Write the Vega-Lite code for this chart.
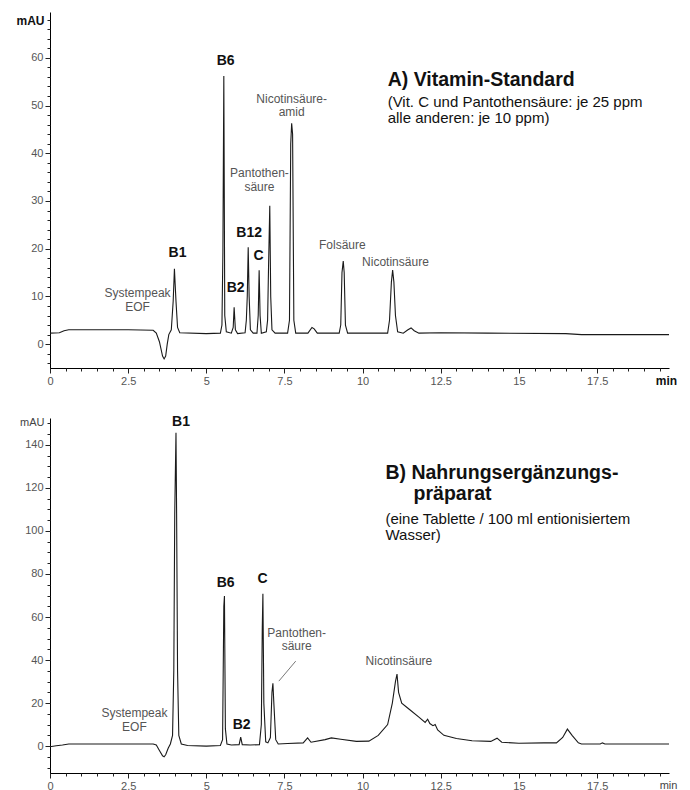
{
  "$schema": "https://vega.github.io/schema/vega-lite/v6.json",
  "background": "white",
  "padding": {"left": 15, "top": 12, "right": 10, "bottom": 0},
  "spacing": 28,
  "config": {
    "view": {"stroke": null},
    "font": "Liberation Sans",
    "axis": {
      "grid": false,
      "domainColor": "#000",
      "tickColor": "#222",
      "labelColor": "#555",
      "labelFontSize": 11,
      "labelPadding": 2,
      "labelOverlap": false,
      "labelFlush": false,
      "titleColor": "#111"
    }
  },
  "datasets": {
    "A": [
      {"t": 0, "v": 2.3}, {"t": 0.3, "v": 2.4}, {"t": 0.45, "v": 2.8}, {"t": 0.6, "v": 3.0}, {"t": 1.5, "v": 3.0}, {"t": 2.5, "v": 3.0},
      {"t": 3.3, "v": 2.9}, {"t": 3.4, "v": 2.3}, {"t": 3.5, "v": 0.5}, {"t": 3.6, "v": -2.5}, {"t": 3.65, "v": -3.1}, {"t": 3.7, "v": -2.5},
      {"t": 3.75, "v": 0}, {"t": 3.8, "v": 2.0}, {"t": 3.88, "v": 3.0}, {"t": 3.94, "v": 9}, {"t": 3.98, "v": 15.8}, {"t": 4.0, "v": 13},
      {"t": 4.03, "v": 9}, {"t": 4.08, "v": 3.5}, {"t": 4.15, "v": 2.4}, {"t": 5.0, "v": 2.2}, {"t": 5.45, "v": 2.3}, {"t": 5.5, "v": 4},
      {"t": 5.53, "v": 19}, {"t": 5.56, "v": 56.2}, {"t": 5.59, "v": 6}, {"t": 5.64, "v": 2.6}, {"t": 5.8, "v": 2.3}, {"t": 5.86, "v": 3.5},
      {"t": 5.89, "v": 7.7}, {"t": 5.93, "v": 3}, {"t": 6.0, "v": 2.2}, {"t": 6.24, "v": 2.4}, {"t": 6.28, "v": 5}, {"t": 6.31, "v": 10},
      {"t": 6.34, "v": 20.3}, {"t": 6.37, "v": 10}, {"t": 6.41, "v": 3}, {"t": 6.5, "v": 2.3}, {"t": 6.62, "v": 2.3}, {"t": 6.66, "v": 6},
      {"t": 6.69, "v": 15.5}, {"t": 6.72, "v": 6}, {"t": 6.76, "v": 2.3}, {"t": 6.92, "v": 2.6}, {"t": 6.96, "v": 5}, {"t": 6.99, "v": 16},
      {"t": 7.03, "v": 29}, {"t": 7.06, "v": 10}, {"t": 7.1, "v": 3}, {"t": 7.2, "v": 2.3}, {"t": 7.6, "v": 2.3}, {"t": 7.66, "v": 5},
      {"t": 7.7, "v": 42}, {"t": 7.73, "v": 46.3}, {"t": 7.76, "v": 44}, {"t": 7.8, "v": 5}, {"t": 7.86, "v": 2.3}, {"t": 8.25, "v": 2.3},
      {"t": 8.38, "v": 3.5}, {"t": 8.45, "v": 3.2}, {"t": 8.55, "v": 2.3}, {"t": 9.25, "v": 2.3}, {"t": 9.3, "v": 4}, {"t": 9.34, "v": 15},
      {"t": 9.38, "v": 17.4}, {"t": 9.41, "v": 15}, {"t": 9.45, "v": 4}, {"t": 9.52, "v": 2.3}, {"t": 10.8, "v": 2.3}, {"t": 10.86, "v": 5},
      {"t": 10.92, "v": 13}, {"t": 10.96, "v": 15.5}, {"t": 11.0, "v": 13}, {"t": 11.05, "v": 6}, {"t": 11.12, "v": 2.6}, {"t": 11.3, "v": 2.3},
      {"t": 11.45, "v": 3.0}, {"t": 11.55, "v": 3.4}, {"t": 11.65, "v": 2.8}, {"t": 11.8, "v": 2.3}, {"t": 12.5, "v": 2.4}, {"t": 14.0, "v": 2.3},
      {"t": 16.5, "v": 2.2}, {"t": 17.0, "v": 2.0}, {"t": 19.8, "v": 2.0}
    ],
    "B": [
      {"t": 0, "v": -0.3}, {"t": 0.2, "v": 0.2}, {"t": 0.4, "v": 0.5}, {"t": 0.6, "v": 1.0}, {"t": 1.0, "v": 1.0}, {"t": 2.0, "v": 1.0},
      {"t": 3.3, "v": 1.0}, {"t": 3.4, "v": 0.5}, {"t": 3.5, "v": -2}, {"t": 3.6, "v": -4.5}, {"t": 3.65, "v": -5}, {"t": 3.7, "v": -4},
      {"t": 3.78, "v": -1}, {"t": 3.85, "v": 1}, {"t": 3.92, "v": 5}, {"t": 3.96, "v": 35}, {"t": 3.99, "v": 108}, {"t": 4.01, "v": 127},
      {"t": 4.03, "v": 145.6}, {"t": 4.05, "v": 108}, {"t": 4.08, "v": 35}, {"t": 4.12, "v": 5}, {"t": 4.2, "v": 1}, {"t": 4.4, "v": 0.3},
      {"t": 5.0, "v": 0}, {"t": 5.45, "v": 0.3}, {"t": 5.52, "v": 3}, {"t": 5.56, "v": 65}, {"t": 5.58, "v": 69.8}, {"t": 5.61, "v": 8},
      {"t": 5.66, "v": 1}, {"t": 5.8, "v": 0.5}, {"t": 6.05, "v": 0.7}, {"t": 6.1, "v": 4.2}, {"t": 6.15, "v": 0.7}, {"t": 6.4, "v": 0.5},
      {"t": 6.7, "v": 0.7}, {"t": 6.76, "v": 10}, {"t": 6.79, "v": 55}, {"t": 6.81, "v": 70.8}, {"t": 6.84, "v": 20}, {"t": 6.9, "v": 2},
      {"t": 6.97, "v": 1.5}, {"t": 7.05, "v": 4}, {"t": 7.1, "v": 25}, {"t": 7.13, "v": 29.2}, {"t": 7.16, "v": 20}, {"t": 7.22, "v": 3},
      {"t": 7.3, "v": 1.0}, {"t": 7.6, "v": 1.2}, {"t": 8.1, "v": 1.5}, {"t": 8.24, "v": 3.8}, {"t": 8.35, "v": 1.8}, {"t": 8.8, "v": 3},
      {"t": 9.0, "v": 3.8}, {"t": 9.3, "v": 3.2}, {"t": 9.8, "v": 2.2}, {"t": 10.2, "v": 2.3}, {"t": 10.5, "v": 5}, {"t": 10.8, "v": 10},
      {"t": 10.95, "v": 20}, {"t": 11.05, "v": 30}, {"t": 11.1, "v": 33.5}, {"t": 11.15, "v": 25}, {"t": 11.25, "v": 20}, {"t": 11.5, "v": 17},
      {"t": 11.8, "v": 13.5}, {"t": 12.0, "v": 11}, {"t": 12.08, "v": 12.5}, {"t": 12.15, "v": 10.5}, {"t": 12.25, "v": 9.5}, {"t": 12.32, "v": 10},
      {"t": 12.4, "v": 7.5}, {"t": 12.6, "v": 5}, {"t": 13.0, "v": 3.5}, {"t": 13.5, "v": 2.5}, {"t": 14.1, "v": 2.2}, {"t": 14.3, "v": 3.7},
      {"t": 14.45, "v": 1.8}, {"t": 15.0, "v": 1.3}, {"t": 15.8, "v": 1.5}, {"t": 16.2, "v": 1.5}, {"t": 16.4, "v": 4}, {"t": 16.55, "v": 7.9},
      {"t": 16.7, "v": 5}, {"t": 16.9, "v": 1.5}, {"t": 17.0, "v": 1.0}, {"t": 17.6, "v": 1.0}, {"t": 17.67, "v": 1.5}, {"t": 17.75, "v": 1.0},
      {"t": 19.8, "v": 1.0}
    ],
    "labels": [
      {"panel": "A", "kind": "peak", "t": 4.08, "v": 19, "text": "B1"},
      {"panel": "A", "kind": "peak", "t": 5.62, "v": 59.3, "text": "B6"},
      {"panel": "A", "kind": "peak", "t": 5.94, "v": 11.7, "text": "B2"},
      {"panel": "A", "kind": "peak", "t": 6.37, "v": 23.3, "text": "B12"},
      {"panel": "A", "kind": "peak", "t": 6.67, "v": 18.5, "text": "C"},
      {"panel": "A", "kind": "name", "t": 2.8, "v": 10.7, "text": "Systempeak\nEOF"},
      {"panel": "A", "kind": "name", "t": 6.7, "v": 35.8, "text": "Pantothen-\nsäure"},
      {"panel": "A", "kind": "name", "t": 7.73, "v": 51.4, "text": "Nicotinsäure-\namid"},
      {"panel": "A", "kind": "name", "t": 9.35, "v": 20.8, "text": "Folsäure"},
      {"panel": "A", "kind": "name", "t": 11.05, "v": 17.2, "text": "Nicotinsäure"},
      {"panel": "A", "kind": "title", "t": 10.8, "v": 55.3, "text": "A) Vitamin-Standard"},
      {"panel": "A", "kind": "sub", "t": 10.8, "v": 50.7, "text": "(Vit. C und Pantothensäure: je 25 ppm\nalle anderen: je 10 ppm)"},
      {"panel": "B", "kind": "peak", "t": 4.19, "v": 150.7, "text": "B1"},
      {"panel": "B", "kind": "peak", "t": 5.62, "v": 75.8, "text": "B6"},
      {"panel": "B", "kind": "peak", "t": 6.8, "v": 77.7, "text": "C"},
      {"panel": "B", "kind": "peak", "t": 6.13, "v": 9.8, "text": "B2"},
      {"panel": "B", "kind": "name", "t": 2.7, "v": 15.3, "text": "Systempeak\nEOF"},
      {"panel": "B", "kind": "name", "t": 7.89, "v": 52.6, "text": "Pantothen-\nsäure"},
      {"panel": "B", "kind": "name", "t": 11.16, "v": 39.5, "text": "Nicotinsäure"},
      {"panel": "B", "kind": "title", "t": 10.73, "v": 127, "text": "B) Nahrungsergänzungs-"},
      {"panel": "B", "kind": "title", "t": 11.63, "v": 117, "text": "präparat"},
      {"panel": "B", "kind": "sub", "t": 10.73, "v": 105.6, "text": "(eine Tablette / 100 ml entionisiertem\nWasser)"}
    ],
    "pointer": [
      {"t": 7.86, "v": 39.5, "t2": 7.32, "v2": 30.2}
    ]
  },
  "vconcat": [
    {
      "width": 619,
      "height": 356,
      "resolve": {"axis": {"x": "independent", "y": "independent"}},
      "layer": [
        {
          "data": {"name": "A"},
          "mark": {"type": "line", "color": "#1a1a1a", "strokeWidth": 1.1},
          "encoding": {
            "x": {
              "field": "t", "type": "quantitative",
              "scale": {"domain": [0, 19.8], "nice": false, "zero": false},
              "axis": {
                "orient": "bottom",
                "values": [0, 2.5, 5, 7.5, 10, 12.5, 15, 17.5],
                "labelExpr": "'' + datum.value", "tickSize": 5,
                "title": "min", "titleX": 616, "titleY": 12, "titleAlign": "center", "titleBaseline": "middle",
                "titleFontWeight": "bold", "titleFontSize": 12
              }
            },
            "y": {
              "field": "v", "type": "quantitative",
              "scale": {"domain": [-5, 69.6], "nice": false, "zero": false},
              "axis": {
                "orient": "left",
                "values": [0, 10, 20, 30, 40, 50, 60],
                "labelExpr": "'' + datum.value", "tickSize": 5,
                "title": "mAU", "titleAngle": 0, "titleAlign": "right", "titleBaseline": "middle",
                "titleX": -6, "titleY": 8, "titleFontWeight": "bold", "titleFontSize": 12
              }
            }
          }
        },
        {
          "data": {"name": "labels"},
          "transform": [{"filter": "datum.panel === 'A' && datum.kind === 'peak'"}],
          "mark": {"type": "text", "fontWeight": "bold", "fontSize": 14, "color": "#111", "align": "center", "baseline": "middle"},
          "encoding": {
            "x": {"field": "t", "type": "quantitative", "axis": {"orient": "bottom", "values": [0,0.5,1,1.5,2,2.5,3,3.5,4,4.5,5,5.5,6,6.5,7,7.5,8,8.5,9,9.5,10,10.5,11,11.5,12,12.5,13,13.5,14,14.5,15,15.5,16,16.5,17,17.5,18,18.5,19,19.5], "labels": false, "domain": false, "tickSize": 3, "title": null}},
            "y": {"field": "v", "type": "quantitative", "axis": {"orient": "left", "values": [-4,-2,0,2,4,6,8,10,12,14,16,18,20,22,24,26,28,30,32,34,36,38,40,42,44,46,48,50,52,54,56,58,60,62,64,66,68], "labels": false, "domain": false, "tickSize": 3, "title": null}},
            "text": {"field": "text"}
          }
        },
        {
          "data": {"name": "labels"},
          "transform": [{"filter": "datum.panel === 'A' && datum.kind === 'name'"}],
          "mark": {"type": "text", "fontSize": 12, "color": "#555", "align": "center", "baseline": "middle", "lineBreak": "\n", "lineHeight": 13.5},
          "encoding": {"x": {"field": "t", "type": "quantitative", "axis": null}, "y": {"field": "v", "type": "quantitative", "axis": null}, "text": {"field": "text"}}
        },
        {
          "data": {"name": "labels"},
          "transform": [{"filter": "datum.panel === 'A' && datum.kind === 'title'"}],
          "mark": {"type": "text", "fontWeight": "bold", "fontSize": 19.5, "color": "#111", "align": "left", "baseline": "middle"},
          "encoding": {"x": {"field": "t", "type": "quantitative", "axis": null}, "y": {"field": "v", "type": "quantitative", "axis": null}, "text": {"field": "text"}}
        },
        {
          "data": {"name": "labels"},
          "transform": [{"filter": "datum.panel === 'A' && datum.kind === 'sub'"}],
          "mark": {"type": "text", "fontSize": 15, "color": "#111", "align": "left", "baseline": "middle", "lineBreak": "\n", "lineHeight": 16},
          "encoding": {"x": {"field": "t", "type": "quantitative", "axis": null}, "y": {"field": "v", "type": "quantitative", "axis": null}, "text": {"field": "text"}}
        }
      ]
    },
    {
      "width": 619,
      "height": 355,
      "resolve": {"axis": {"x": "independent", "y": "independent"}},
      "layer": [
        {
          "data": {"name": "B"},
          "mark": {"type": "line", "color": "#1a1a1a", "strokeWidth": 1.1},
          "encoding": {
            "x": {
              "field": "t", "type": "quantitative",
              "scale": {"domain": [0, 19.8], "nice": false, "zero": false},
              "axis": {
                "orient": "bottom",
                "values": [0, 2.5, 5, 7.5, 10, 12.5, 15, 17.5],
                "labelExpr": "'' + datum.value", "tickSize": 5,
                "title": "min", "titleX": 618, "titleY": 12, "titleAlign": "center", "titleBaseline": "middle",
                "titleFontWeight": "normal", "titleFontSize": 11, "titleColor": "#444"
              }
            },
            "y": {
              "field": "v", "type": "quantitative",
              "scale": {"domain": [-12.5, 152.5], "nice": false, "zero": false},
              "axis": {
                "orient": "left",
                "values": [0, 20, 40, 60, 80, 100, 120, 140],
                "labelExpr": "'' + datum.value", "tickSize": 5,
                "title": "mAU", "titleAngle": 0, "titleAlign": "right", "titleBaseline": "middle",
                "titleX": -6, "titleY": 4, "titleFontWeight": "normal", "titleFontSize": 11, "titleColor": "#444"
              }
            }
          }
        },
        {
          "data": {"name": "labels"},
          "transform": [{"filter": "datum.panel === 'B' && datum.kind === 'peak'"}],
          "mark": {"type": "text", "fontWeight": "bold", "fontSize": 14, "color": "#111", "align": "center", "baseline": "middle"},
          "encoding": {
            "x": {"field": "t", "type": "quantitative", "axis": {"orient": "bottom", "values": [0,0.5,1,1.5,2,2.5,3,3.5,4,4.5,5,5.5,6,6.5,7,7.5,8,8.5,9,9.5,10,10.5,11,11.5,12,12.5,13,13.5,14,14.5,15,15.5,16,16.5,17,17.5,18,18.5,19,19.5], "labels": false, "domain": false, "tickSize": 3, "title": null}},
            "y": {"field": "v", "type": "quantitative", "axis": {"orient": "left", "values": [-10,-5,0,5,10,15,20,25,30,35,40,45,50,55,60,65,70,75,80,85,90,95,100,105,110,115,120,125,130,135,140,145,150], "labels": false, "domain": false, "tickSize": 3, "title": null}},
            "text": {"field": "text"}
          }
        },
        {
          "data": {"name": "pointer"},
          "mark": {"type": "rule", "color": "#555", "strokeWidth": 0.8},
          "encoding": {
            "x": {"field": "t", "type": "quantitative", "axis": null}, "y": {"field": "v", "type": "quantitative", "axis": null},
            "x2": {"field": "t2"}, "y2": {"field": "v2"}
          }
        },
        {
          "data": {"name": "labels"},
          "transform": [{"filter": "datum.panel === 'B' && datum.kind === 'name'"}],
          "mark": {"type": "text", "fontSize": 12, "color": "#555", "align": "center", "baseline": "middle", "lineBreak": "\n", "lineHeight": 13.5},
          "encoding": {"x": {"field": "t", "type": "quantitative", "axis": null}, "y": {"field": "v", "type": "quantitative", "axis": null}, "text": {"field": "text"}}
        },
        {
          "data": {"name": "labels"},
          "transform": [{"filter": "datum.panel === 'B' && datum.kind === 'title'"}],
          "mark": {"type": "text", "fontWeight": "bold", "fontSize": 19.5, "color": "#111", "align": "left", "baseline": "middle"},
          "encoding": {"x": {"field": "t", "type": "quantitative", "axis": null}, "y": {"field": "v", "type": "quantitative", "axis": null}, "text": {"field": "text"}}
        },
        {
          "data": {"name": "labels"},
          "transform": [{"filter": "datum.panel === 'B' && datum.kind === 'sub'"}],
          "mark": {"type": "text", "fontSize": 15, "color": "#111", "align": "left", "baseline": "middle", "lineBreak": "\n", "lineHeight": 16},
          "encoding": {"x": {"field": "t", "type": "quantitative", "axis": null}, "y": {"field": "v", "type": "quantitative", "axis": null}, "text": {"field": "text"}}
        }
      ]
    }
  ]
}
